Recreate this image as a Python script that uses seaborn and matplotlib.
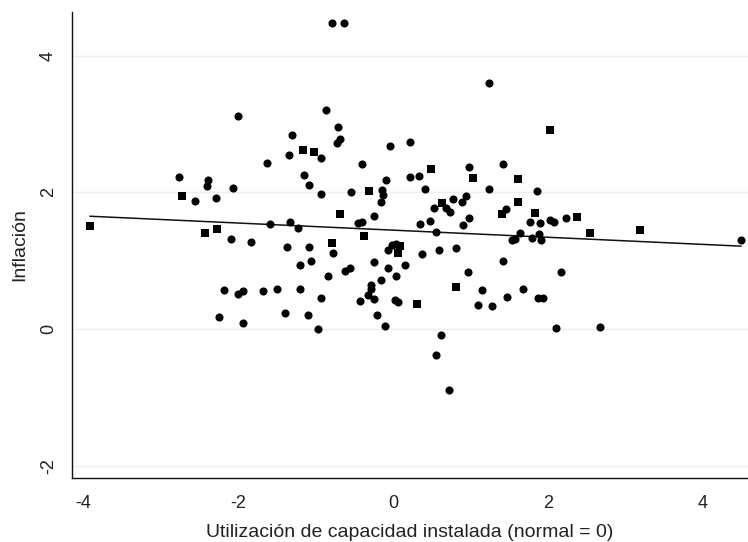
import matplotlib
matplotlib.use("Agg")
import matplotlib.pyplot as plt
import numpy as np
import pandas as pd
import seaborn as sns

# Capacity utilisation gap (x) and inflation (y), circle-marked observations
x_circulo = [
    -0.79, -0.64, 1.24, 4.50,
    -2.01, -1.30, -1.34, -1.63, -2.77, -2.39, -2.41, -2.07,
    -2.56, -2.29, -2.10, -1.83, -1.59, -1.33, -1.23, -1.37,
    -0.86, -0.71, -0.69, -0.73, -0.93, -0.40, -0.04, 0.22,
    -1.15, -1.08, -0.93, -0.54, -0.09, -0.14, -0.13, -0.15,
    0.22, 0.33, 0.41, -0.45, -0.40, -0.25, -1.08, -0.06,
    -0.01, 0.04, 0.35, 0.48, 0.56, 0.69, 0.74, 0.53,
    0.78, 0.59,
    0.98, 1.42, 1.24, 1.86, 0.89, 0.95, 0.98, 0.90,
    1.46, 1.77, 1.90, 2.03, 2.08, 2.24, 1.64, 1.54,
    1.58, 1.80, 1.89, 1.91, 0.81,
    -1.20, -2.19, -2.00, -1.94, -1.68, -1.50, -1.20, -2.25,
    -1.94, -1.40, -0.77, -1.06, -0.84, -0.62, -0.55, -0.24,
    -0.06, 0.04, 0.15, -0.16, 0.38, -0.93, -1.10, -0.97,
    -0.29, -0.29, -0.32, -0.25, -0.43, -0.21, -0.10, 0.03,
    0.06, 0.62, 0.55, 0.73, 0.97, 1.42, 1.15, 1.10,
    1.28, 1.48, 1.68, 1.88, 1.94, 2.17, 2.11, 2.67,
]
y_circulo = [
    4.48, 4.48, 3.60, 1.30,
    3.11, 2.84, 2.55, 2.43, 2.23, 2.18, 2.10, 2.07,
    1.87, 1.92, 1.32, 1.28, 1.54, 1.57, 1.48, 1.20,
    3.20, 2.96, 2.78, 2.72, 2.51, 2.41, 2.68, 2.73,
    2.25, 2.11, 1.98, 2.01, 2.18, 2.04, 1.96, 1.86,
    2.22, 2.24, 2.05, 1.55, 1.57, 1.65, 1.20, 1.16,
    1.23, 1.25, 1.54, 1.58, 1.42, 1.77, 1.71, 1.77,
    1.90, 1.16,
    2.37, 2.42, 2.05, 2.02, 1.86, 1.94, 1.63, 1.52,
    1.76, 1.57, 1.55, 1.60, 1.57, 1.63, 1.40, 1.30,
    1.32, 1.33, 1.39, 1.31, 1.19,
    0.94, 0.57, 0.51, 0.56, 0.55, 0.58, 0.59, 0.18,
    0.09, 0.24, 1.11, 1.00, 0.78, 0.85, 0.90, 0.98,
    0.89, 0.78, 0.93, 0.72, 1.10, 0.46, 0.21, 0.00,
    0.65, 0.59, 0.50, 0.44, 0.41, 0.21, 0.05, 0.42,
    0.39, -0.09, -0.38, -0.89, 0.83, 1.00, 0.57, 0.35,
    0.34, 0.47, 0.59, 0.46, 0.45, 0.83, 0.02, 0.03,
]

# Square-marked observations
x_cuadrado = [
    2.03, -3.92, 3.19, -2.73, -2.43, -2.27, -1.17, -1.02,
    -0.31, 0.49, -0.68, -0.37, -0.79, 0.09, 0.06, 0.64,
    1.04, 1.62, 1.62, 1.41, 1.84, 2.38, 2.55, 0.31,
    0.81,
]
y_cuadrado = [
    2.91, 1.51, 1.45, 1.94, 1.41, 1.47, 2.62, 2.59,
    2.02, 2.34, 1.68, 1.36, 1.26, 1.22, 1.11, 1.85,
    2.21, 2.19, 1.86, 1.68, 1.70, 1.64, 1.41, 0.37,
    0.62,
]

# Linear fit of inflation on utilisation
fit_intercept = 1.447
fit_slope = -0.052

x_ticks = [-4, -2, 0, 2, 4]
y_ticks = [-2, 0, 2, 4]

circulos = pd.DataFrame({"util": x_circulo, "inflacion": y_circulo})
cuadrados = pd.DataFrame({"util": x_cuadrado, "inflacion": y_cuadrado})

sns.set_style("white")
plt.rcParams["font.family"] = ["Liberation Sans", "DejaVu Sans"]

fig = plt.figure(figsize=(7.48, 5.42), dpi=100)
ax = fig.add_axes([0.0963, 0.118, 0.9037, 0.860])

for y in y_ticks:
    ax.axhline(y, color="#eeeeee", lw=1.0, zorder=0)

sns.scatterplot(data=circulos, x="util", y="inflacion", marker="o",
                color="black", s=34, linewidth=0, ax=ax, zorder=3)
sns.scatterplot(data=cuadrados, x="util", y="inflacion", marker="s",
                color="black", s=26, linewidth=0, ax=ax, zorder=3)

todos = pd.concat([circulos, cuadrados])
x_fit = np.array([todos["util"].min(), todos["util"].max()])
fit_df = pd.DataFrame({"x": x_fit, "y": fit_intercept + fit_slope * x_fit})
sns.lineplot(data=fit_df, x="x", y="y", color="#111111", lw=1.1, ax=ax, zorder=2)

ax.set_xlim(-4.15, 4.59)
ax.set_ylim(-2.18, 4.64)
ax.set_xticks(x_ticks)
ax.set_yticks(y_ticks)
ax.set_xticklabels([str(v) for v in x_ticks])
ax.set_yticklabels([str(v) for v in y_ticks], rotation=90, va="center")

for side in ["top", "right"]:
    ax.spines[side].set_visible(False)
for side in ["left", "bottom"]:
    ax.spines[side].set_color("#111111")
    ax.spines[side].set_linewidth(1.0)

ax.tick_params(axis="both", direction="out", length=6, width=1.0,
               color="#111111", labelsize=13, labelcolor="#222222")
ax.tick_params(axis="x", pad=6)
ax.tick_params(axis="y", pad=5)
ax.grid(False)

ax.set_xlabel("Utilización de capacidad instalada (normal = 0)", fontsize=14,
              color="#222222", labelpad=9)
ax.set_ylabel("Inflación", fontsize=14, color="#222222", labelpad=8)

fig.savefig("out.png", dpi=100, facecolor="white")
